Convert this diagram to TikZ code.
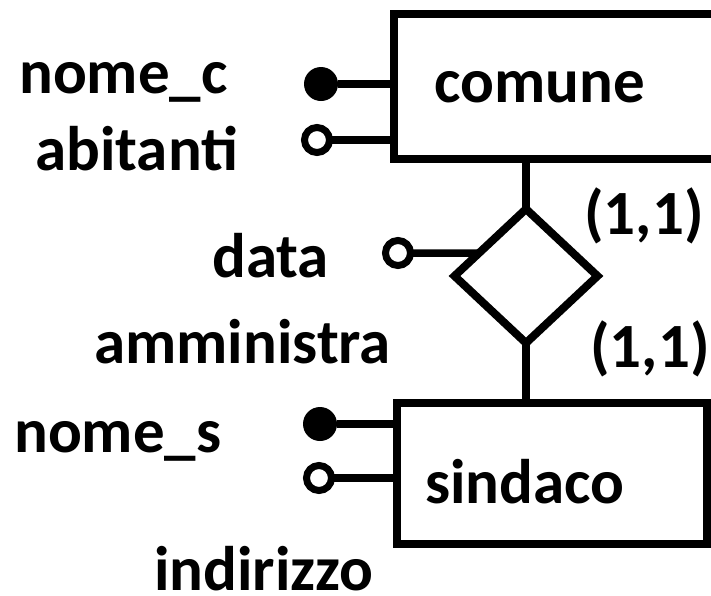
\documentclass[tikz,border=0pt]{standalone}
\usepackage{fontspec}
\setmainfont{Carlito}
\usetikzlibrary{shapes.geometric}
\begin{document}
\begin{tikzpicture}[x=1pt,y=-1pt,
  lbl/.style={font=\bfseries\fontsize{63}{63}\selectfont, inner sep=0pt, anchor=base west},
  ent/.style={draw, rectangle, line width=8pt, inner sep=0pt, outer sep=0pt},
  rel/.style={draw, diamond, line width=8pt, inner sep=0pt, outer sep=0pt},
  conn/.style={line width=7.5pt},
  keyattr/.style={circle, fill, inner sep=0pt, outer sep=0pt, minimum size=34pt},
  attr/.style={circle, draw, line width=7pt, fill=white, inner sep=0pt, outer sep=0pt, minimum size=25pt}
]
\useasboundingbox (0,0) rectangle (711,595);
\clip (0,0) rectangle (711,595);

% entities
\node[ent, anchor=north west, minimum width=400pt, minimum height=145pt] (comune) at (394,14) {};
\node[ent, anchor=north west, minimum width=310pt, minimum height=141pt] (sindaco) at (397,403) {};
% relationship
\node[rel, minimum width=143pt, minimum height=134pt] (amm) at (526,276) {};

% relationship links
\draw[conn] (amm.north) -- (amm.north |- comune.south);
\draw[conn] (amm.south) -- (amm.south |- sindaco.north);

% attributes
\node[keyattr] (nc) at (321,84) {};
\draw[conn] (nc) -- (nc -| comune.west);
\node[attr] (ab) at (317,140) {};
\draw[conn] (ab) -- (ab -| comune.west);
\node[keyattr] (ns) at (320,424) {};
\draw[conn] (ns) -- (ns -| sindaco.west);
\node[attr] (ind) at (319,478) {};
\draw[conn] (ind) -- (ind -| sindaco.west);
\node[attr] (da) at (398,253) {};
\draw[conn] (da) -- (amm.154);

% labels
\node[lbl] (t-comune) at (434,102) {comune};
\node[lbl] (t-sindaco) at (425,503) {sindaco};
\node[lbl] (t-nomec) at (19,93) {nome\_c};
\node[lbl] (t-abit) at (35,170) {abitanti};
\node[lbl] (t-data) at (212,277) {data};
\node[lbl] (t-amm) at (94,363) {amministra};
\node[lbl] (t-noms) at (14,452) {nome\_s};
\node[lbl] (t-ind) at (154,590) {indirizzo};
\node[lbl] (t-c1) at (584,234) {(1,1)};
\node[lbl] (t-c2) at (590,367) {(1,1)};
\end{tikzpicture}
\end{document}
